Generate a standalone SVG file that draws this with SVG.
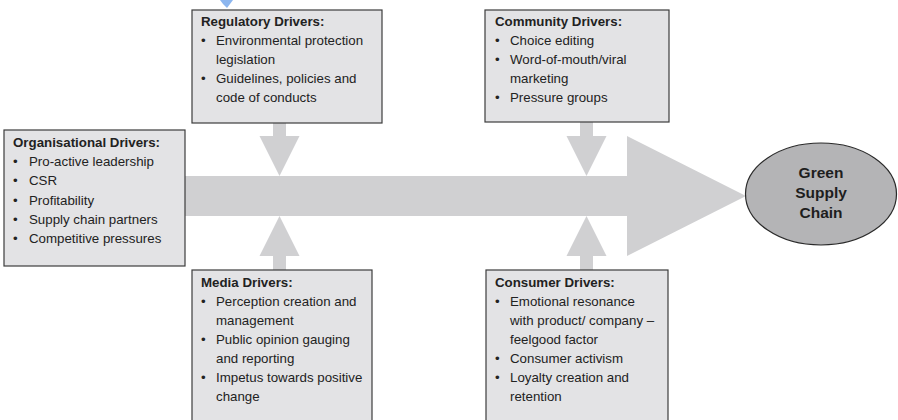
<svg xmlns="http://www.w3.org/2000/svg" width="898" height="420" viewBox="0 0 898 420">
<style>
.box{fill:#e3e3e5;stroke:#3c3c3c;stroke-width:1.2}
.arr{fill:#d0d0d2;stroke:none}
.t{font-family:"Liberation Sans",Arial,sans-serif;font-size:13.3px;fill:#222}
.h{font-weight:bold}
.g{font-family:"Liberation Sans",Arial,sans-serif;font-size:15.5px;font-weight:bold;fill:#1e1e1e;text-anchor:middle}
</style>
<rect width="898" height="420" fill="#ffffff"/>
<polygon points="220,0 233,0 227,8 223,4" fill="#8cb6ef"/>
<g id="connectors">
<path class="arr" d="M185,176 H627 V136 L746,196 L627,256 V216 H185 Z"/>
<path class="arr" d="M273,123 H286 V136 H299.5 L279.5,176 L259.5,136 H273 Z"/>
<path class="arr" d="M580,122 H593 V136 H606.5 L586.5,176 L566.5,136 H580 Z"/>
<path class="arr" d="M273,270 H286 V256 H299.5 L279.5,216 L259.5,256 H273 Z"/>
<path class="arr" d="M580,270 H593 V256 H606.5 L586.5,216 L566.5,256 H580 Z"/>
</g>
<g id="regulatory">
<rect class="box" x="192" y="10" width="190" height="113"/>
<text class="t h" x="201" y="25.5">Regulatory Drivers:</text>
<text class="t" x="201" y="44.5">•</text><text class="t" x="216" y="44.5">Environmental protection</text>
<text class="t" x="216" y="63.5">legislation</text>
<text class="t" x="201" y="82.5">•</text><text class="t" x="216" y="82.5">Guidelines, policies and</text>
<text class="t" x="216" y="101.5">code of conducts</text>
</g>
<g id="community">
<rect class="box" x="485" y="10" width="184" height="112"/>
<text class="t h" x="495" y="25.5">Community Drivers:</text>
<text class="t" x="495" y="44.5">•</text><text class="t" x="510" y="44.5">Choice editing</text>
<text class="t" x="495" y="63.5">•</text><text class="t" x="510" y="63.5">Word-of-mouth/viral</text>
<text class="t" x="510" y="82.5">marketing</text>
<text class="t" x="495" y="101.5">•</text><text class="t" x="510" y="101.5">Pressure groups</text>
</g>
<g id="organisational">
<rect class="box" x="4" y="130" width="181" height="136"/>
<text class="t h" x="13" y="147">Organisational Drivers:</text>
<text class="t" x="13" y="166.2">•</text><text class="t" x="29" y="166.2">Pro-active leadership</text>
<text class="t" x="13" y="185.4">•</text><text class="t" x="29" y="185.4">CSR</text>
<text class="t" x="13" y="204.6">•</text><text class="t" x="29" y="204.6">Profitability</text>
<text class="t" x="13" y="223.8">•</text><text class="t" x="29" y="223.8">Supply chain partners</text>
<text class="t" x="13" y="243">•</text><text class="t" x="29" y="243">Competitive pressures</text>
</g>
<g id="media">
<rect class="box" x="192" y="270" width="180" height="160"/>
<text class="t h" x="201" y="286.5">Media Drivers:</text>
<text class="t" x="201" y="305.5">•</text><text class="t" x="216" y="305.5">Perception creation and</text>
<text class="t" x="216" y="324.5">management</text>
<text class="t" x="201" y="343.5">•</text><text class="t" x="216" y="343.5">Public opinion gauging</text>
<text class="t" x="216" y="362.5">and reporting</text>
<text class="t" x="201" y="381.5">•</text><text class="t" x="216" y="381.5">Impetus towards positive</text>
<text class="t" x="216" y="400.5">change</text>
</g>
<g id="consumer">
<rect class="box" x="486" y="270" width="182" height="160"/>
<text class="t h" x="495" y="286.5">Consumer Drivers:</text>
<text class="t" x="495" y="305.5">•</text><text class="t" x="510" y="305.5">Emotional resonance</text>
<text class="t" x="510" y="324.5">with product/ company –</text>
<text class="t" x="510" y="343.5">feelgood factor</text>
<text class="t" x="495" y="362.5">•</text><text class="t" x="510" y="362.5">Consumer activism</text>
<text class="t" x="495" y="381.5">•</text><text class="t" x="510" y="381.5">Loyalty creation and</text>
<text class="t" x="510" y="400.5">retention</text>
</g>
<g id="green-supply-chain">
<ellipse cx="821" cy="194" rx="75.5" ry="51" fill="#b4b4b6" stroke="#2a2a2a" stroke-width="1.2"/>
<text class="g" x="821" y="178">Green</text>
<text class="g" x="821" y="197.5">Supply</text>
<text class="g" x="821" y="218">Chain</text>
</g>
</svg>
